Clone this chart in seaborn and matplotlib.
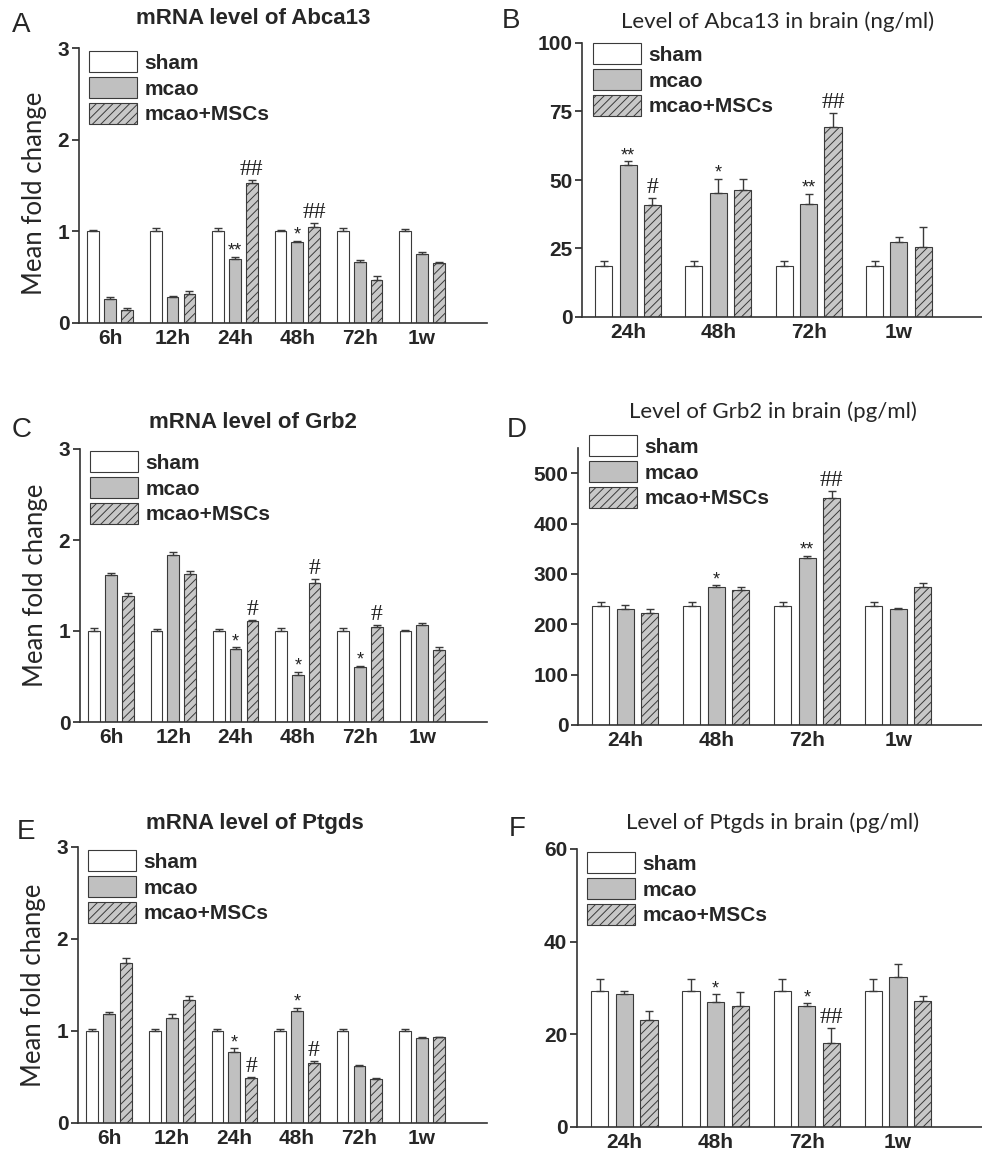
import numpy as np
import pandas as pd
import seaborn as sns
import matplotlib.pyplot as plt
from matplotlib.font_manager import FontProperties

groups = ["sham", "mcao", "mcao+MSCs"]
times_mrna = ["6h", "12h", "24h", "48h", "72h", "1w"]
times_brain = ["24h", "48h", "72h", "1w"]

# A - mRNA level of Abca13
abca13_mrna_sham = [1.0, 1.0, 1.0, 1.0, 1.0, 1.0]
abca13_mrna_mcao = [0.26, 0.28, 0.70, 0.88, 0.67, 0.75]
abca13_mrna_msc = [0.14, 0.32, 1.53, 1.05, 0.47, 0.66]
abca13_mrna_sham_err = [0.02, 0.04, 0.04, 0.02, 0.04, 0.03]
abca13_mrna_mcao_err = [0.02, 0.01, 0.02, 0.02, 0.02, 0.03]
abca13_mrna_msc_err = [0.02, 0.03, 0.03, 0.04, 0.04, 0.01]
abca13_mrna_mcao_sig = ["", "", "**", "*", "", ""]
abca13_mrna_msc_sig = ["", "", "##", "##", "", ""]

# B - Abca13 in brain (ng/ml)
abca13_brain_sham = [18.7, 18.7, 18.7, 18.7]
abca13_brain_mcao = [55.3, 45.3, 41.2, 27.4]
abca13_brain_msc = [40.8, 46.5, 69.3, 25.4]
abca13_brain_sham_err = [1.7, 1.7, 1.7, 1.7]
abca13_brain_mcao_err = [1.5, 5.1, 3.7, 1.8]
abca13_brain_msc_err = [2.7, 3.9, 5.1, 7.3]
abca13_brain_mcao_sig = ["**", "*", "**", ""]
abca13_brain_msc_sig = ["#", "", "##", ""]

# C - mRNA level of Grb2
grb2_mrna_sham = [1.0, 1.0, 1.0, 1.0, 1.0, 1.0]
grb2_mrna_mcao = [1.61, 1.84, 0.80, 0.52, 0.60, 1.07]
grb2_mrna_msc = [1.39, 1.63, 1.11, 1.53, 1.04, 0.79]
grb2_mrna_sham_err = [0.03, 0.02, 0.02, 0.03, 0.03, 0.01]
grb2_mrna_mcao_err = [0.03, 0.03, 0.02, 0.03, 0.02, 0.02]
grb2_mrna_msc_err = [0.03, 0.03, 0.01, 0.04, 0.03, 0.03]
grb2_mrna_mcao_sig = ["", "", "*", "*", "*", ""]
grb2_mrna_msc_sig = ["", "", "#", "#", "#", ""]

# D - Grb2 in brain (pg/ml)
grb2_brain_sham = [236, 236, 236, 236]
grb2_brain_mcao = [230, 275, 332, 230]
grb2_brain_msc = [222, 269, 450, 274]
grb2_brain_sham_err = [9, 9, 9, 9]
grb2_brain_mcao_err = [8, 2, 4, 1.5]
grb2_brain_msc_err = [8, 6, 15, 7]
grb2_brain_mcao_sig = ["", "*", "**", ""]
grb2_brain_msc_sig = ["", "", "##", ""]

# E - mRNA level of Ptgds
ptgds_mrna_sham = [1.0, 1.0, 1.0, 1.0, 1.0, 1.0]
ptgds_mrna_mcao = [1.18, 1.14, 0.77, 1.22, 0.62, 0.92]
ptgds_mrna_msc = [1.74, 1.34, 0.49, 0.65, 0.48, 0.93]
ptgds_mrna_sham_err = [0.02, 0.02, 0.02, 0.02, 0.02, 0.02]
ptgds_mrna_mcao_err = [0.03, 0.04, 0.04, 0.03, 0.01, 0.01]
ptgds_mrna_msc_err = [0.05, 0.04, 0.01, 0.02, 0.01, 0.01]
ptgds_mrna_mcao_sig = ["", "", "*", "*", "", ""]
ptgds_mrna_msc_sig = ["", "", "#", "#", "", ""]

# F - Ptgds in brain (pg/ml)
ptgds_brain_sham = [29.4, 29.4, 29.4, 29.4]
ptgds_brain_mcao = [28.8, 27.0, 26.2, 32.4]
ptgds_brain_msc = [23.0, 26.1, 18.2, 27.2]
ptgds_brain_sham_err = [2.5, 2.5, 2.5, 2.5]
ptgds_brain_mcao_err = [0.5, 1.6, 0.5, 2.7]
ptgds_brain_msc_err = [2.0, 3.1, 3.1, 1.1]
ptgds_brain_mcao_sig = ["", "*", "*", ""]
ptgds_brain_msc_sig = ["", "", "##", ""]

sns.set_style("ticks")
plt.rcParams["font.family"] = ["Liberation Sans", "DejaVu Sans"]
plt.rcParams["hatch.linewidth"] = 0.7

W, H = 982, 1151
fig = plt.figure(figsize=(W / 100, H / 100), dpi=100)

palette = {"sham": "white", "mcao": "#c0c0c0", "mcao+MSCs": "#c8c8c8"}
edge = "#3a3a3a"


def px_axes(l, t, r, b):
    return fig.add_axes([l / W, 1 - b / H, (r - l) / W, (b - t) / H])


def draw_panel(ax, times, values, errs, sigs, ylim, yticks, xlim):
    df = pd.DataFrame({
        "time": times * 3,
        "group": np.repeat(groups, len(times)),
        "value": values[0] + values[1] + values[2],
    })
    sns.barplot(data=df, x="time", y="value", hue="group", order=times,
                hue_order=groups, palette=palette, saturation=1, width=0.81,
                gap=0.3, errorbar=None, edgecolor=edge, linewidth=0.8,
                legend=False, ax=ax)
    bars = list(ax.containers[:3])
    for bar in bars[2]:
        bar.set_hatch("////")
    for cont, err, sig in zip(bars, errs, sigs):
        xs = [p.get_x() + p.get_width() / 2 for p in cont]
        ys = [p.get_height() for p in cont]
        ax.errorbar(xs, ys, yerr=[np.zeros(len(err)), err], fmt="none",
                    ecolor=edge, elinewidth=1, capsize=3, capthick=1)
        for x, y, e, s in zip(xs, ys, err, sig):
            if s.startswith("*"):
                ax.annotate(s, xy=(x, y + e), xytext=(0, -2), textcoords="offset points",
                            ha="center", va="bottom", fontsize=13, color="#222")
            elif s:
                ax.annotate(s, xy=(x, y + e), xytext=(0, 0), textcoords="offset points",
                            ha="center", va="bottom", fontsize=17, color="#222",
                            family="Liberation Serif")
    ax.set_xlim(*xlim)
    ax.set_ylim(*ylim)
    ax.set_yticks(yticks)
    ax.set_xlabel("")
    ax.set_ylabel("")
    sns.despine(ax=ax)
    for s in ["left", "bottom"]:
        ax.spines[s].set_linewidth(1.2)
        ax.spines[s].set_color("#333")
    ax.tick_params(axis="y", direction="out", length=5, width=1.2, labelsize=15, pad=2)
    ax.tick_params(axis="x", length=0, labelsize=15, pad=4)
    for lbl in ax.get_xticklabels() + ax.get_yticklabels():
        lbl.set_fontweight("bold")
    return bars


def add_legend(ax, bars, x, y):
    ax.legend(handles=[c.patches[0] for c in bars], labels=groups,
              loc="upper left", bbox_to_anchor=(x / W, 1 - y / H),
              bbox_transform=fig.transFigure, frameon=False, borderpad=0,
              borderaxespad=0, handlelength=2.3, handleheight=1.2,
              labelspacing=0.2, handletextpad=0.35,
              prop=FontProperties(family="Liberation Sans", weight="bold", size=15))


panels = [
    # axes px box, times, values, errs, sigs, ylim, yticks, xlim, legend px, title, title px, bold title, letter, letter px
    ((79, 48, 487, 323), times_mrna,
     [abca13_mrna_sham, abca13_mrna_mcao, abca13_mrna_msc],
     [abca13_mrna_sham_err, abca13_mrna_mcao_err, abca13_mrna_msc_err],
     [[""] * 6, abca13_mrna_mcao_sig, abca13_mrna_msc_sig],
     (0, 3), [0, 1, 2, 3], (-0.5, 6.04), (89, 51),
     "mRNA level of Abca13", (253, 18), True, "A", (21, 25)),
    ((582, 43, 982, 317), times_brain,
     [abca13_brain_sham, abca13_brain_mcao, abca13_brain_msc],
     [abca13_brain_sham_err, abca13_brain_mcao_err, abca13_brain_msc_err],
     [[""] * 4, abca13_brain_mcao_sig, abca13_brain_msc_sig],
     (0, 100), [0, 25, 50, 75, 100], (-0.51, 3.92), (593, 43),
     "Level of Abca13 in brain (ng/ml)", (778, 22), False, "B", (511, 21)),
    ((80, 449, 487, 722), times_mrna,
     [grb2_mrna_sham, grb2_mrna_mcao, grb2_mrna_msc],
     [grb2_mrna_sham_err, grb2_mrna_mcao_err, grb2_mrna_msc_err],
     [[""] * 6, grb2_mrna_mcao_sig, grb2_mrna_msc_sig],
     (0, 3), [0, 1, 2, 3], (-0.5, 6.04), (90, 451),
     "mRNA level of Grb2", (253, 423), True, "C", (22, 430)),
    ((578, 448, 982, 725), times_brain,
     [grb2_brain_sham, grb2_brain_mcao, grb2_brain_msc],
     [grb2_brain_sham_err, grb2_brain_mcao_err, grb2_brain_msc_err],
     [[""] * 4, grb2_brain_mcao_sig, grb2_brain_msc_sig],
     (0, 550), [0, 100, 200, 300, 400, 500], (-0.52, 3.92), (589, 435),
     "Level of Grb2 in brain (pg/ml)", (773, 412), False, "D", (517, 430)),
    ((78, 847, 487, 1123), times_mrna,
     [ptgds_mrna_sham, ptgds_mrna_mcao, ptgds_mrna_msc],
     [ptgds_mrna_sham_err, ptgds_mrna_mcao_err, ptgds_mrna_msc_err],
     [[""] * 6, ptgds_mrna_mcao_sig, ptgds_mrna_msc_sig],
     (0, 3), [0, 1, 2, 3], (-0.5, 6.04), (88, 850),
     "mRNA level of Ptgds", (255, 823), True, "E", (26, 832)),
    ((577, 849, 982, 1127), times_brain,
     [ptgds_brain_sham, ptgds_brain_mcao, ptgds_brain_msc],
     [ptgds_brain_sham_err, ptgds_brain_mcao_err, ptgds_brain_msc_err],
     [[""] * 4, ptgds_brain_mcao_sig, ptgds_brain_msc_sig],
     (0, 60), [0, 20, 40, 60], (-0.52, 3.92), (587, 852),
     "Level of Ptgds in brain (pg/ml)", (773, 823), False, "F", (517, 829)),
]

for i, (box, times, vals, errs, sigs, ylim, yticks, xlim, leg, title, tpos, bold, letter, lpos) in enumerate(panels):
    ax = px_axes(*box)
    bars = draw_panel(ax, times, vals, errs, sigs, ylim, yticks, xlim)
    add_legend(ax, bars, *leg)
    if bold:
        fig.text(tpos[0] / W, 1 - tpos[1] / H, title, ha="center", va="center",
                 fontsize=16, fontweight="bold", family="Liberation Sans")
    else:
        fig.text(tpos[0] / W, 1 - tpos[1] / H, title, ha="center", va="center",
                 fontsize=16, family="Lato")
    fig.text(lpos[0] / W, 1 - lpos[1] / H, letter, ha="center", va="center",
             fontsize=20, family="Liberation Sans")
    if i % 2 == 0:
        ax.set_ylabel("Mean fold change", fontsize=18.5, family="Lato")
        ax.yaxis.set_label_coords(-0.078, 0.47 if i == 0 else 0.5)

fig.savefig("out.png", dpi=100)
